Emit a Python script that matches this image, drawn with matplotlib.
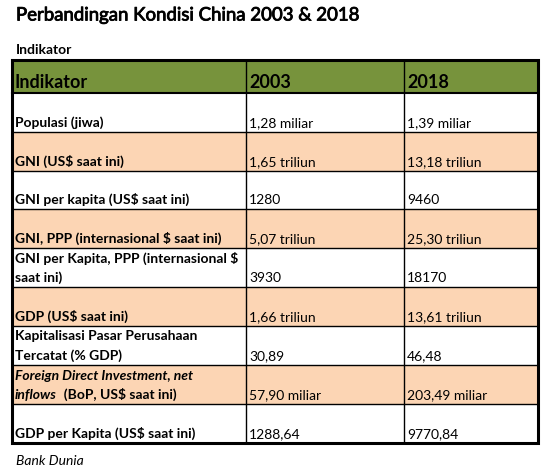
import matplotlib
matplotlib.use("Agg")
import matplotlib.pyplot as plt
import matplotlib.patheffects as pe
from matplotlib.patches import Rectangle

title = "Perbandingan Kondisi China 2003 & 2018"
subtitle = "Indikator"
source = "Bank Dunia"
headers = ["Indikator", "2003", "2018"]
indicators = [
    ["Populasi (jiwa)"],
    ["GNI (US$ saat ini)"],
    ["GNI per kapita (US$ saat ini)"],
    ["GNI, PPP (internasional $ saat ini)"],
    ["GNI per Kapita, PPP (internasional $", "saat ini)"],
    ["GDP (US$ saat ini)"],
    ["Kapitalisasi Pasar Perusahaan", "Tercatat (% GDP)"],
    ["Foreign Direct Investment, net", "inflows|  (BoP, US$ saat ini)"],
    ["GDP per Kapita (US$ saat ini)"],
]
values_2003 = ["1,28 miliar", "1,65 triliun", "1280", "5,07 triliun", "3930",
               "1,66 triliun", "30,89", "57,90 miliar", "1288,64"]
values_2018 = ["1,39 miliar", "13,18 triliun", "9460", "25,30 triliun", "18170",
               "13,61 triliun", "46,48", "203,49 miliar", "9770,84"]

FONT = "Lato"
W, H = 556, 470
fig = plt.figure(figsize=(W / 100, H / 100), dpi=100)
ax = fig.add_axes([0, 0, 1, 1])
ax.set_xlim(0, W)
ax.set_ylim(H, 0)
ax.axis("off")

green = "#77933C"
peach = "#FCD5B4"
col_x = [12, 246, 404, 538]
head_top, head_bot = 60, 93
row_edges = [93, 132, 171, 209, 248, 287, 326, 365, 404, 443]
fs = 10.0

ax.text(16, 15, title, fontsize=13.4, family=FONT, va="center", ha="left", color="black",
        path_effects=[pe.withStroke(linewidth=0.6, foreground="black")])
ax.text(16, 50, subtitle, fontsize=10.0, family=FONT, fontweight="bold", va="center", ha="left")
ax.text(16, 461, source, fontsize=10.0, family=FONT, style="italic", va="center", ha="left")

# header
ax.add_patch(Rectangle((col_x[0], head_top), col_x[3] - col_x[0], head_bot - head_top,
                       facecolor=green, edgecolor="none"))
for j, h in enumerate(headers):
    ax.text(col_x[j] + 3, head_bot - 5, h, fontsize=13, family=FONT, fontweight="bold",
            va="baseline", ha="left", color="black")

# rows
for i in range(len(indicators)):
    top, bot = row_edges[i], row_edges[i + 1]
    if i % 2 == 1:
        ax.add_patch(Rectangle((col_x[0], top), col_x[3] - col_x[0], bot - top,
                               facecolor=peach, edgecolor="none"))
    lines = indicators[i]
    italic = (i == 7)
    for k, line in enumerate(lines):
        y = bot - 5 - (len(lines) - 1 - k) * 19.5
        if "|" in line:
            a, b = line.split("|")
            t = ax.text(col_x[0] + 3, y, a, fontsize=fs, family=FONT, fontweight="bold",
                        style="italic", va="baseline", ha="left")
            fig.canvas.draw()
            bb = t.get_window_extent()
            x2 = bb.x1  # pixels == data units here
            ax.text(x2, y, b, fontsize=fs, family=FONT, fontweight="bold",
                    va="baseline", ha="left")
        else:
            ax.text(col_x[0] + 3, y, line, fontsize=fs, family=FONT, fontweight="bold",
                    style="italic" if italic else "normal", va="baseline", ha="left")
    ax.text(col_x[1] + 3, bot - 5, values_2003[i], fontsize=fs, family=FONT,
            va="baseline", ha="left")
    ax.text(col_x[2] + 3, bot - 5, values_2018[i], fontsize=fs, family=FONT,
            va="baseline", ha="left")

# grid lines
for y in row_edges[1:-1]:
    ax.plot([col_x[0], col_x[3]], [y, y], color="black", lw=1.0, solid_capstyle="butt")
ax.plot([col_x[0], col_x[3]], [head_bot, head_bot], color="black", lw=1.5)
for x in col_x[1:3]:
    ax.plot([x, x], [head_top, row_edges[-1]], color="black", lw=1.0)
ax.add_patch(Rectangle((col_x[0], head_top), col_x[3] - col_x[0], row_edges[-1] - head_top,
                       facecolor="none", edgecolor="black", lw=2.2))

fig.savefig("out.png", dpi=100, facecolor="white")
